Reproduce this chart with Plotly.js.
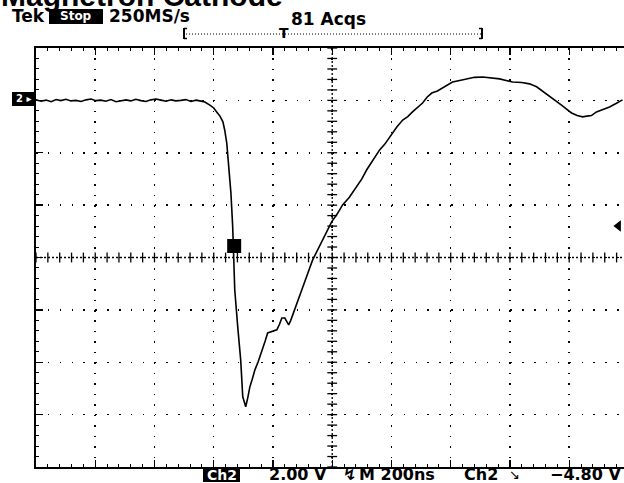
<!DOCTYPE html>
<html>
<head>
<meta charset="utf-8">
<script src="https://cdn.plot.ly/plotly-3.0.1.min.js"></script>
<style>html,body{margin:0;padding:0;background:#fff;}#chart{width:624px;height:483px;}</style>
</head>
<body>
<div id="chart"></div>
<script>
// Channel 2 trace: time (ns) vs voltage (V), 200 ns/div, 2.00 V/div
const timeNs = [0,17,34,51,68,84,101,118,135,152,169,186,202,219,236,253,270,287,304,320,337,354,371,388,405,422,439,456,472,489,506,523,540,553,
  570,587,600,610,621,631,637,644,651,658,664,666,671,681,691,698,
  708,715,722,730,739,750,762,772,782,798,813,822,830,840,847,853,860,867,875,884,898,914,924,934,951,968,983,998,1016,1035,1058,1083,1100,1116,1138,1160,1177,1194,1206,1218,1238,1255,1271,1288,1305,1320,1336,1355,1373,1390,1406,1430,1454,1480,1508,1536,1565,1587,1609,1640,1666,1690,1710,1727,1744,1760,1774,1790,1808,1827,1845,1860,1875,1892,1914,1936,1958,1980];
const voltsV = [0.02,-0.03,0.01,-0.05,0.03,-0.01,0.04,-0.02,0.00,-0.04,0.02,0.05,-0.01,0.01,-0.03,0.03,-0.05,0.00,0.02,-0.02,0.04,-0.01,-0.04,0.02,0.05,0.01,-0.03,0.02,-0.02,0.00,0.03,-0.04,0.01,-0.02,
  -0.06,-0.18,-0.29,-0.44,-0.60,-0.82,-1.13,-1.63,-2.66,-3.53,-4.83,-5.52,-7.24,-8.65,-9.91,-11.32,
  -11.70,-11.35,-10.94,-10.65,-10.29,-9.98,-9.53,-9.25,-8.88,-8.82,-8.76,-8.55,-8.31,-8.31,-8.45,-8.57,-8.40,-8.19,-7.95,-7.62,-7.20,-6.74,-6.40,-6.09,-5.70,-5.33,-4.98,-4.64,-4.35,-3.99,-3.70,-3.31,-3.00,-2.66,-2.28,-1.89,-1.68,-1.40,-1.25,-1.02,-0.75,-0.62,-0.44,-0.28,-0.10,0.12,0.28,0.36,0.47,0.58,0.70,0.76,0.82,0.88,0.89,0.86,0.82,0.76,0.70,0.68,0.63,0.52,0.36,0.22,0.09,-0.05,-0.18,-0.32,-0.48,-0.58,-0.63,-0.60,-0.58,-0.44,-0.36,-0.25,-0.12,0.02];
const cursorT = [669];
const cursorV = [-5.56];
const triggerLevelV = [-4.8];
const triggerArrowT = [1966];

const titleText = "Magnetron Cathode";
const statusLeft = "Tek";
const statusBox = "Stop";
const sampleRate = "250MS/s";
const acqs = "81 Acqs";
const chLabel = "Ch2";
const voltsDiv = "2.00 V";
const timeDiv = "M 200ns";
const trigSrc = "Ch2";
const trigLevel = "\u22124.80 V";

const X0 = 0, X1 = 1985, Y0 = -14, Y1 = 2;
const L = 36, T = 48, PW = 588, PH = 419;
const px = p => (p - L) / PW;
const py = p => (T + PH - p) / PH;

// decorative centre-line cross ticks
const cvY = [], cvX = [], chX = [], chY = [];
for (let i = 0; i <= 40; i++) { cvY.push(Y0 + i * 0.4); cvX.push(1000); }
for (let i = 0; i <= 50; i++) { chX.push(i * 40); chY.push(-6); }

const traces = [
  {x: cvX, y: cvY, mode: 'markers', marker: {symbol: 'line-ew', size: 7, line: {width: 1.3, color: '#000'}}, hoverinfo: 'skip'},
  {x: chX, y: chY, mode: 'markers', marker: {symbol: 'line-ns', size: 7, line: {width: 1.3, color: '#000'}}, hoverinfo: 'skip'},
  {x: timeNs, y: voltsV, mode: 'lines', line: {color: '#000', width: 1.6}},
  {x: cursorT, y: cursorV, mode: 'markers', marker: {symbol: 'square', size: 14, color: '#000'}},
  {x: triggerArrowT, y: triggerLevelV, mode: 'markers', marker: {symbol: 'triangle-left', size: 10, color: '#000'}, cliponaxis: false}
];

const fTop = {family: 'DejaVu Sans, sans-serif', size: 17, color: '#000', weight: 'bold'};
const fBot = {family: 'DejaVu Sans, sans-serif', size: 16, color: '#000', weight: 'bold'};

const ann = (x, y, text, font, xanchor, extra) => Object.assign({xref: 'paper', yref: 'paper', x: px(x), y: py(y), text: text, showarrow: false, font: font, xanchor: xanchor, yanchor: 'middle'}, extra || {});

const layout = {
  width: 624, height: 483,
  margin: {l: L, r: 0, t: T, b: 483 - T - PH},
  paper_bgcolor: '#fff', plot_bgcolor: '#fff',
  showlegend: false,
  xaxis: {range: [X0, X1], tick0: 0, dtick: 200, showgrid: true, gridcolor: '#000', gridwidth: 1.5, griddash: '1.5px,8.98px',
    zeroline: false, showline: true, linecolor: '#000', linewidth: 2, mirror: 'ticks', ticks: 'inside', ticklen: 7, tickwidth: 1.3, tickcolor: '#000',
    showticklabels: false, minor: {dtick: 40, ticks: 'inside', ticklen: 3, tickwidth: 1, tickcolor: '#000', showgrid: false}},
  yaxis: {range: [Y0, Y1], tick0: 0, dtick: 2, showgrid: true, gridcolor: '#000', gridwidth: 1.5, griddash: '1.5px,10.36px',
    zeroline: false, showline: true, linecolor: '#000', linewidth: 2, mirror: false, ticks: 'inside', ticklen: 7, tickwidth: 1.3, tickcolor: '#000',
    showticklabels: false, minor: {dtick: 0.4, ticks: 'inside', ticklen: 3, tickwidth: 1, tickcolor: '#000', showgrid: false}},
  shapes: [
    {type: 'line', xref: 'x', yref: 'y', x0: 1000, x1: 1000, y0: Y0, y1: Y1, line: {color: '#000', width: 1.3, dash: '2px,2px'}},
    {type: 'line', xref: 'x', yref: 'y', x0: X0, x1: X1, y0: -6, y1: -6, line: {color: '#000', width: 1.3, dash: '2px,2px'}},
    {type: 'line', xref: 'paper', yref: 'paper', x0: px(186), x1: px(481), y0: py(34), y1: py(34), line: {color: '#000', width: 1, dash: '1px,2px'}},
    {type: 'line', xref: 'paper', yref: 'paper', x0: px(184), x1: px(184), y0: py(28), y1: py(39), line: {color: '#000', width: 2}},
    {type: 'line', xref: 'paper', yref: 'paper', x0: px(184), x1: px(187), y0: py(28.5), y1: py(28.5), line: {color: '#000', width: 1.5}},
    {type: 'line', xref: 'paper', yref: 'paper', x0: px(184), x1: px(187), y0: py(38.5), y1: py(38.5), line: {color: '#000', width: 1.5}},
    {type: 'line', xref: 'paper', yref: 'paper', x0: px(482), x1: px(482), y0: py(28), y1: py(39), line: {color: '#000', width: 2}},
    {type: 'line', xref: 'paper', yref: 'paper', x0: px(479), x1: px(482), y0: py(28.5), y1: py(28.5), line: {color: '#000', width: 1.5}},
    {type: 'line', xref: 'paper', yref: 'paper', x0: px(479), x1: px(482), y0: py(38.5), y1: py(38.5), line: {color: '#000', width: 1.5}},
    {type: 'rect', xref: 'paper', yref: 'paper', x0: px(12), x1: px(35), y0: py(92), y1: py(106), fillcolor: '#000', line: {width: 0}},
    {type: 'rect', xref: 'paper', yref: 'paper', x0: px(49), x1: px(103), y0: py(9), y1: py(24), fillcolor: '#000', line: {width: 0}},
    {type: 'rect', xref: 'paper', yref: 'paper', x0: px(203), x1: px(240), y0: py(467), y1: py(482), fillcolor: '#000', line: {width: 0}}
  ],
  annotations: [
    ann(0, 0, '<b>' + titleText + '</b>', {family: 'Liberation Sans, Arial, sans-serif', size: 30, color: '#000'}, 'left', {yanchor: 'bottom', y: py(13), borderpad: 0}),
    ann(10, 16.5, statusLeft, fTop, 'left'),
    ann(76, 16.5, statusBox, {family: 'DejaVu Sans', size: 12, color: '#fff', weight: 'bold'}, 'center'),
    ann(107, 16.5, sampleRate, fTop, 'left'),
    ann(289, 18.5, acqs, fTop, 'left'),
    ann(284, 33, '<b>T</b>', {family: 'DejaVu Sans', size: 14, color: '#000'}, 'center'),
    ann(23.5, 99, '2 \u25B8', {family: 'DejaVu Sans', size: 10, color: '#fff', weight: 'bold'}, 'center'),
    ann(221.5, 474.5, chLabel, {family: 'DejaVu Sans', size: 14, color: '#fff', weight: 'bold'}, 'center'),
    ann(267, 474.5, voltsDiv, fBot, 'left'),
    ann(341, 474.5, '\u21AF', fBot, 'left'),
    ann(357, 474.5, timeDiv, fBot, 'left'),
    ann(462, 474.5, trigSrc, fBot, 'left'),
    ann(507, 474.5, '\u2198', {family: 'DejaVu Sans', size: 13, color: '#000'}, 'left'),
    ann(623, 474.5, trigLevel, fBot, 'right')
  ]
};

Plotly.newPlot('chart', traces, layout, {staticPlot: true, displayModeBar: false});
</script>
</body>
</html>
